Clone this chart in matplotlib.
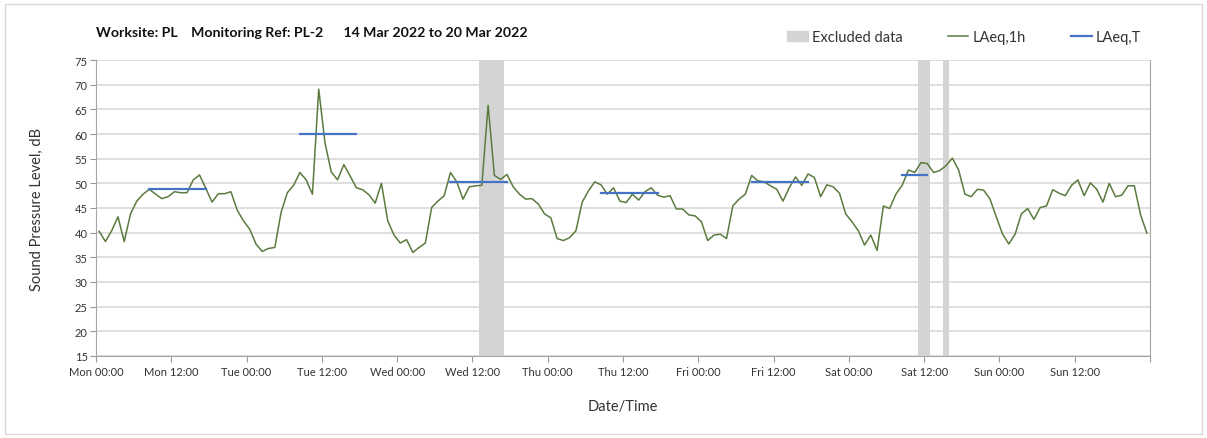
import matplotlib.pyplot as plt
import numpy as np
from matplotlib.patches import Rectangle, Patch
from matplotlib.lines import Line2D

plt.rcParams['font.family'] = ['Lato', 'DejaVu Sans']

# hourly LAeq,1h values, Mon 00:30 .. Sun 23:30
mon = [40.3, 38.2, 40.4, 43.2, 38.2, 43.8, 46.4, 47.8, 48.8, 47.8, 46.9, 47.3,
       48.3, 48.1, 48.1, 50.7, 51.7, 49.0, 46.2, 47.9, 47.9, 48.3, 44.6, 42.4]
tue = [40.7, 37.7, 36.2, 36.8, 37.0, 44.1, 48.1, 49.6, 52.2, 50.7, 47.8, 69.1,
       58.2, 52.3, 50.7, 53.8, 51.5, 49.1, 48.7, 47.7, 46.0, 50.0, 42.4, 39.5]
wed = [37.9, 38.6, 36.0, 37.0, 37.9, 45.1, 46.4, 47.5, 52.2, 50.3, 46.8, 49.3,
       49.5, 49.6, 65.8, 51.6, 50.8, 51.8, 49.3, 47.8, 46.8, 46.9, 45.8, 43.8]
thu = [43.0, 38.8, 38.4, 39.0, 40.4, 46.2, 48.5, 50.3, 49.7, 47.8, 49.1, 46.4,
       46.1, 47.8, 46.6, 48.3, 49.1, 47.6, 47.2, 47.5, 44.8, 44.8, 43.6, 43.4]
fri = [42.2, 38.4, 39.5, 39.7, 38.8, 45.4, 46.8, 47.8, 51.6, 50.5, 50.3, 49.5,
       48.8, 46.4, 49.1, 51.3, 49.6, 51.9, 51.2, 47.3, 49.7, 49.3, 48.0, 43.8]
sat = [42.2, 40.4, 37.5, 39.5, 36.4, 45.4, 44.9, 47.8, 49.6, 52.7, 52.2, 54.2,
       54.0, 52.2, 52.6, 53.6, 55.1, 52.7, 47.8, 47.3, 48.8, 48.6, 46.8, 43.2]
sun = [39.7, 37.7, 39.7, 43.8, 44.9, 42.7, 45.1, 45.4, 48.7, 48.0, 47.5, 49.6,
       50.7, 47.5, 50.1, 48.8, 46.2, 50.0, 47.3, 47.6, 49.5, 49.5, 43.6, 39.9]
laeq_1h = mon + tue + wed + thu + fri + sat + sun
hours = np.arange(len(laeq_1h)) + 0.5

# LAeq,T daytime periods (hours from Mon 00:00)
t_start = [8.5, 32.5, 56.5, 80.5, 104.5, 128.5]
t_end = [17.5, 41.5, 65.5, 89.5, 113.5, 132.5]
t_level = [48.9, 60.1, 50.3, 48.0, 50.2, 51.7]

# excluded data windows
ex_start = [61, 131, 135]
ex_end = [65, 133, 136]

days = ['Mon', 'Tue', 'Wed', 'Thu', 'Fri', 'Sat', 'Sun']
tick_labels = []
for d in days:
    tick_labels += [d + ' 00:00', d + ' 12:00']
tick_labels.append('')

green = '#5b7b3e'
blue = '#4472c4'
grey = '#d4d4d4'

fig = plt.figure(figsize=(12.07, 4.39), dpi=100)
ax = fig.add_axes([96/1207, 1 - 357/439, (1150 - 96)/1207, (357 - 61)/439])

for s, e in zip(ex_start, ex_end):
    ax.axvspan(s, e, color=grey, lw=0, zorder=1)

ax.plot(hours, laeq_1h, color=green, lw=1.1, zorder=3)
for s, e, v in zip(t_start, t_end, t_level):
    ax.plot([s, e], [v, v], color=blue, lw=1.6, zorder=4)

ax.set_xlim(0, 168)
ax.set_ylim(15, 75)
ax.set_yticks(np.arange(15, 76, 5))
ax.set_xticks(np.arange(0, 169, 12))
ax.set_xticklabels(tick_labels)
ax.set_xticks(np.arange(0, 169, 24), minor=True)
ax.grid(axis='y', color='#d9d9d9', lw=1.2, zorder=0)
ax.grid(axis='x', which='minor', color='#e3e3e3', lw=1.2, zorder=0)
ax.set_axisbelow(True)
ax.tick_params(axis='x', which='minor', length=0)
ax.tick_params(axis='both', which='major', labelsize=8, colors='#333333',
               length=4, color='#999999')
ax.tick_params(axis='y', pad=2)

for sp in ['left', 'bottom', 'right']:
    ax.spines[sp].set_color('#a6a6a6')
ax.spines['top'].set_visible(False)

ax.set_ylabel('Sound Pressure Level, dB', fontsize=10.5, color='#333333')
ax.yaxis.set_label_coords(-0.049, 0.5)
ax.set_xlabel('Date/Time', fontsize=10.5, color='#333333')
ax.xaxis.set_label_coords(0.5, -0.145)

fig.text(96/1207, 1 - 33/439, 'Worksite: PL    Monitoring Ref: PL-2      14 Mar 2022 to 20 Mar 2022',
         fontsize=10.2, fontweight='bold', va='center', color='#111111')

handles = [Patch(color=grey, label='Excluded data'),
           Line2D([], [], color=green, lw=1.1, label='LAeq,1h'),
           Line2D([], [], color=blue, lw=1.6, label='LAeq,T')]
fig.legend(handles=handles, loc='center left', bbox_to_anchor=(774/1207, 1 - 38/439),
           ncol=3, frameon=False, fontsize=10.5, handlelength=1.4, handletextpad=0.3,
           columnspacing=3.1, labelcolor='#333333')

fig.patches.append(Rectangle((5/1207, 4/439), 1197/1207, 430/439, transform=fig.transFigure,
                             fill=False, edgecolor='#d9d9d9', lw=1))

fig.savefig('out.png', dpi=100)
